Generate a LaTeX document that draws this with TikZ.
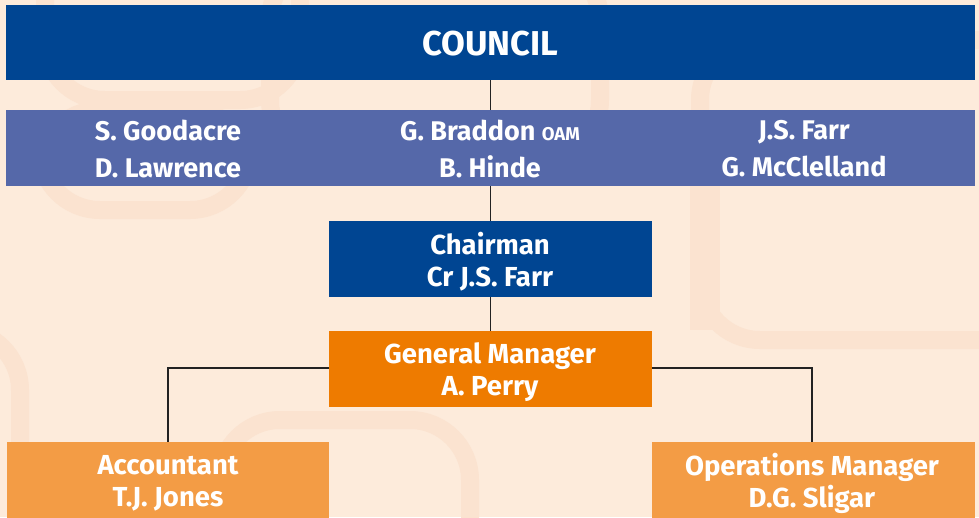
\documentclass[tikz,border=0pt]{standalone}
\usepackage{fontspec}
\setmainfont{Fira Sans}
\usetikzlibrary{positioning}
\definecolor{bg}{HTML}{FDEBDB}
\definecolor{bgpat}{HTML}{FBE3D0}
\definecolor{darkblue}{HTML}{004592}
\definecolor{midblue}{HTML}{5568A9}
\definecolor{gmorange}{HTML}{EE7B00}
\definecolor{ltorange}{HTML}{F39C45}
\definecolor{linec}{HTML}{222222}
\tikzset{
  box/.style={inner sep=0pt, outer sep=0pt, anchor=north west},
  lbl/.style={text=white, font=\bfseries\fontsize{27.5}{32}\selectfont, align=center, inner sep=0pt},
  namelbl/.style={text=white, font=\bfseries\fontsize{27}{37}\selectfont, align=center, inner sep=0pt},
  conn/.style={draw=linec, line width=1.8pt},
  pat/.style={draw=bgpat, line width=18pt, rounded corners=60pt}
}
\begin{document}
\begin{tikzpicture}[x=1pt,y=-1pt]
\useasboundingbox (0,0) rectangle (979,517);
\fill[bg] (0,0) rectangle (979,517);
% faint background pattern
\begin{scope}
\clip (0,0) rectangle (979,517);
\draw[pat] (45,-60) rectangle (300,100);
\draw[pat] (270,-40) rectangle (600,160);
\draw[pat] (700,40) rectangle (1040,340);
\draw[pat] (-120,330) rectangle (20,600);
\draw[pat] (220,420) rectangle (470,640);
\draw[pat] (40,110) rectangle (250,210);
\fill[bgpat] (690,120) rectangle (720,330);
\end{scope}
% boxes
\node[box, fill=darkblue, minimum width=969pt, minimum height=75pt] (council) at (6,5) {};
\node[lbl, font=\bfseries\fontsize{34.5}{34}\selectfont] (councilt) at (490,44) {COUNCIL};
\node[box, fill=midblue, minimum width=969pt, minimum height=76pt] (members) at (6,110) {};
\node[namelbl] (m1) at (168,149) {S. Goodacre\\D. Lawrence};
\node[namelbl] (m2) at (490,149) {G. Braddon {\fontsize{18.5}{20}\selectfont OAM}\\B. Hinde};
\node[namelbl] (m3) at (804,149) {J.S. Farr\\G. McClelland};
\node[box, fill=darkblue, minimum width=323pt, minimum height=76pt] (chair) at (329,221) {};
\node[lbl] (chairt) at (490,262) {Chairman\\Cr J.S. Farr};
\node[box, fill=gmorange, minimum width=323pt, minimum height=76pt] (gm) at (329,331) {};
\node[lbl] (gmt) at (490,372) {General Manager\\A. Perry};
\node[box, fill=ltorange, minimum width=322pt, minimum height=80pt] (acc) at (7,442) {};
\node[lbl] (acct) at (168,483) {Accountant\\T.J. Jones};
\node[box, fill=ltorange, minimum width=323pt, minimum height=80pt] (ops) at (652,442) {};
\node[lbl] (opst) at (812,483) {Operations Manager\\D.G. Sligar};
% connectors
\draw[conn] (council.south) -- (members.north -| council.south);
\draw[conn] (members.south -| chair.north) -- (chair.north);
\draw[conn] (chair.south) -- (gm.north);
\draw[conn] ([yshift=-37pt]gm.north west) -| (acct.center |- acc.north);
\draw[conn] ([yshift=-37pt]gm.north east) -| (opst.center |- ops.north);
\end{tikzpicture}
\end{document}
